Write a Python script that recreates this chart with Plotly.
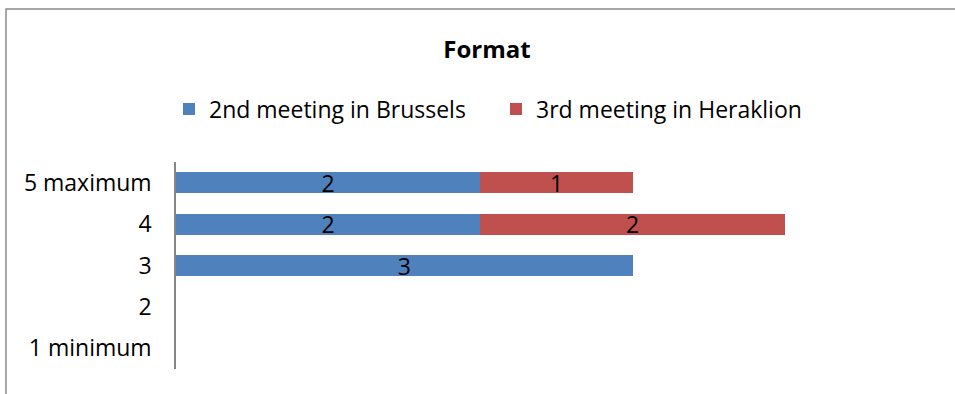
import plotly.graph_objects as go

categories = ["1 minimum", "2", "3", "4", "5 maximum"]
brussels = [0, 0, 3, 2, 2]
heraklion = [0, 0, 0, 2, 1]
series_names = ["2nd meeting in Brussels", "3rd meeting in Heraklion"]
colors = ["#4F81BD", "#C0504D"]

FONT = "'Open Sans', sans-serif"
FS = 23

def labels(vals):
    return [str(v) if v else "" for v in vals]

fig = go.Figure()
for name, vals, col in zip(series_names, [brussels, heraklion], colors):
    fig.add_trace(go.Bar(
        y=categories, x=vals, name=name, orientation="h",
        marker=dict(color=col, line=dict(width=0)),
        text=labels(vals), textposition="inside", insidetextanchor="middle",
        textfont=dict(color="black", size=FS, family=FONT),
        textangle=0, constraintext="none", cliponaxis=False,
    ))

fig.update_layout(
    width=955, height=394,
    barmode="stack", bargap=0.49,
    uniformtext=dict(minsize=FS, mode="show"),
    margin=dict(l=176, r=18, t=162, b=25),
    paper_bgcolor="white", plot_bgcolor="white",
    font=dict(family=FONT, size=FS, color="black"),
    title=dict(text="<b>Format</b>", x=487/955, xref="container", xanchor="center",
               y=1 - 50/394, yref="container", yanchor="middle",
               font=dict(size=24, family=FONT, color="black")),
    legend=dict(orientation="h", x=496/955, xref="container", xanchor="center",
                y=1 - 109/394, yref="container", yanchor="middle",
                font=dict(size=FS, family=FONT), traceorder="normal",
                entrywidth=282),
    showlegend=True,
    xaxis=dict(range=[0, 5], visible=False, fixedrange=True),
    yaxis=dict(categoryorder="array", categoryarray=categories,
               showline=True, linecolor="#868686", linewidth=1.5,
               ticks="", showgrid=False, ticklabelstandoff=18,
               tickfont=dict(size=FS, family=FONT, color="black")),
    shapes=[dict(type="rect", xref="paper", yref="paper",
                 x0=(6 - 176) / 761, x1=1.2, y0=-0.5, y1=1 + (162 - 9) / 207,
                 line=dict(color="#8c8c8c", width=1.5), layer="below")],
)

fig.write_html("out.html")
